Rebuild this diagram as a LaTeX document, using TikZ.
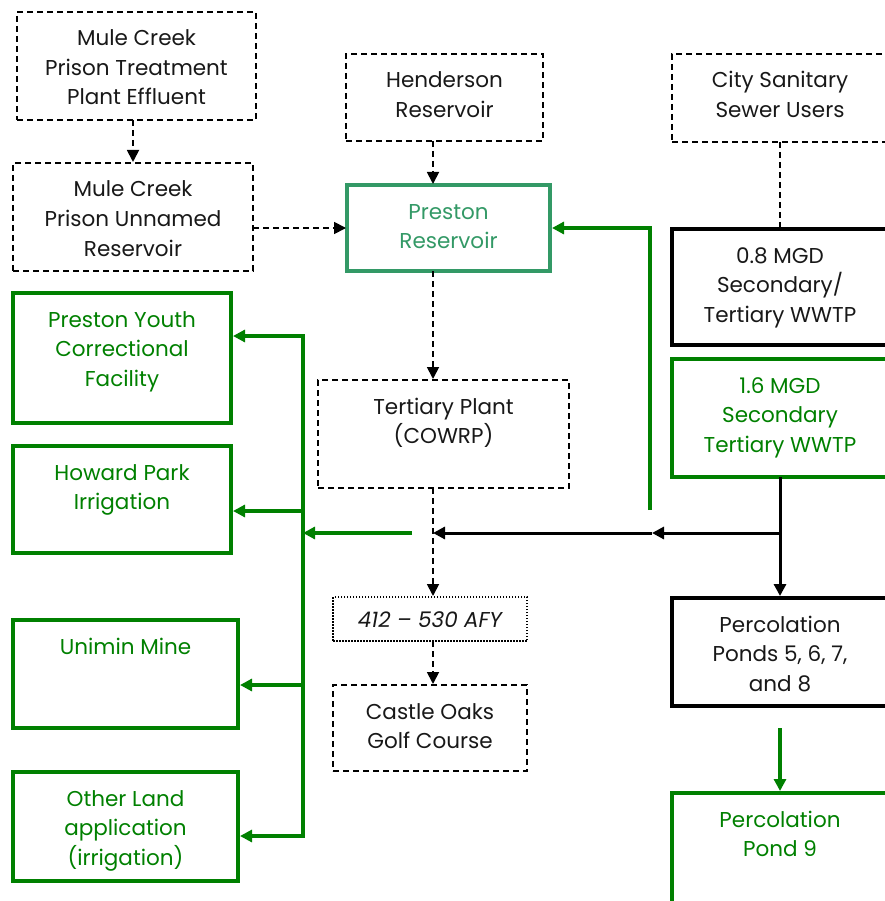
\documentclass[tikz,border=0pt]{standalone}
\usepackage{fontspec}
\setmainfont{Poppins}
\usetikzlibrary{arrows.meta}

\definecolor{flowgreen}{RGB}{0,128,0}
\definecolor{seagreen}{RGB}{51,153,102}
\definecolor{inkgray}{RGB}{24,24,24}

% box text: [baseline of first line] {width} {height} {lines}
\newcommand{\boxtext}[4][34pt]{\parbox[c][#3][t]{#2}{\centering\rule{0pt}{#1}#4}}

\tikzset{
    every node/.style={inner sep=0pt, outer sep=0pt, anchor=north west, font=\fontsize{21.5}{29.5}\selectfont},
    dashbox/.style={draw=black, line width=1.8pt, dash pattern=on 6pt off 4pt, text=inkgray},
    dotbox/.style={draw=black, line width=1.4pt, dash pattern=on 1.5pt off 1.5pt, text=inkgray},
    blackbox/.style={draw=black, line width=4.5pt, text=inkgray},
    greenbox/.style={draw=flowgreen, line width=4pt, text=flowgreen},
    seabox/.style={draw=seagreen, line width=4pt, text=seagreen},
    tip/.style={-{Triangle[length=12pt,width=12pt]}},
    dashflow/.style={tip, black, line width=1.8pt, dash pattern=on 6pt off 4pt, shorten >=1pt},
    blackflow/.style={tip, black, line width=3pt},
    greenflow/.style={tip, flowgreen, line width=3.5pt, shorten >=2pt},
}

\begin{document}
\begin{tikzpicture}[x=1pt, y=-1pt]
    \useasboundingbox (0,0) rectangle (884,901);

    % sources
    \node[dashbox] (mcte) at (17,12) {\boxtext{239pt}{108pt}{Mule Creek\\Prison Treatment\\Plant Effluent}};
    \node[dashbox] (mcur) at (13,163) {\boxtext{240pt}{108pt}{Mule Creek\\Prison Unnamed\\Reservoir}};
    \node[dashbox] (hend) at (346,54) {\boxtext{197pt}{87pt}{Henderson\\Reservoir}};
    \node[dashbox] (sewer) at (672,54) {\boxtext{216pt}{88pt}{City Sanitary\\Sewer Users}};

    % middle column
    \node[seabox] (prest) at (347,185) {\boxtext{203pt}{86pt}{Preston\\Reservoir}};
    \node[dashbox] (cowrp) at (318,380) {\boxtext{251pt}{108pt}{Tertiary Plant\\(COWRP)}};
    \node[dotbox] (afy) at (333,597) {\boxtext[30pt]{194pt}{44pt}{\itshape 412 -- 530 AFY}};
    \node[dashbox] (golf) at (333,685) {\boxtext{194pt}{86pt}{Castle Oaks\\Golf Course}};

    % right column (runs off the page)
    \node[blackbox] (mgd08) at (672,229) {\boxtext{216pt}{116pt}{0.8 MGD\\Secondary/\\Tertiary WWTP}};
    \node[greenbox] (mgd16) at (672,359) {\boxtext{216pt}{118pt}{1.6 MGD\\Secondary\\Tertiary WWTP}};
    \node[blackbox] (perc) at (672,598) {\boxtext{216pt}{108pt}{Percolation\\Ponds 5, 6, 7,\\and 8}};
    \node[greenbox] (pond9) at (672,793) {\boxtext{216pt}{120pt}{Percolation\\Pond 9}};

    % reuse users
    \node[greenbox] (pyc) at (13,293) {\boxtext{218pt}{130pt}{Preston Youth\\Correctional\\Facility}};
    \node[greenbox] (howard) at (13,446) {\boxtext{218pt}{107pt}{Howard Park\\Irrigation}};
    \node[greenbox] (unimin) at (13,620) {\boxtext{225pt}{108pt}{Unimin Mine}};
    \node[greenbox] (other) at (13,772) {\boxtext{225pt}{109pt}{Other Land\\application\\(irrigation)}};

    \coordinate (spine) at (433,0);
    \coordinate (split) at (780,533);
    \coordinate (ret) at (652,533);
    \coordinate (retfoot) at (650,510);
    \coordinate (gfrom) at (412,533);
    \coordinate (p9from) at (780,728);
    \coordinate (bustop) at (303,336);
    \coordinate (bus2) at (303,511);
    \coordinate (bus3) at (303,685);
    \coordinate (busbot) at (303,836);

    % dashed feeds
    \draw[dashflow] (mcte.south -| mcur.north) -- (mcur.north);
    \draw[dashflow] (mcur.east |- prest.west) -- (prest.west);
    \draw[dashflow] (hend.south -| spine) -- (prest.north -| spine);
    \draw[dashflow] (prest.south -| spine) -- (cowrp.north -| spine);
    \draw[dashflow] (cowrp.south -| spine) -- (afy.north -| spine);
    \draw[dashflow] (afy.south -| spine) -- (golf.north -| spine);
    \draw[black, line width=1.8pt, dash pattern=on 6pt off 4pt] (sewer.south) -- (mgd08.north);

    % WWTP outflow
    \draw[blackflow, shorten >=2pt] (mgd16.south) -- (perc.north);
    \draw[blackflow] (split) -- (ret);
    \draw[blackflow] (ret) -- (split -| spine);
    \draw[greenflow] (retfoot) |- (prest.east); % return to Preston
    \draw[greenflow] (pond9.north |- p9from) -- (pond9.north);

    % distribution bus
    \draw[flowgreen, line width=3.5pt] (bustop) -- (busbot);
    \draw[greenflow, shorten >=0pt] (gfrom) -- (gfrom -| bustop);
    \draw[greenflow, line cap=rect] (bustop) -- (bustop -| pyc.east);
    \draw[greenflow] (bus2) -- (bus2 -| howard.east);
    \draw[greenflow] (bus3) -- (bus3 -| unimin.east);
    \draw[greenflow, line cap=rect] (busbot) -- (busbot -| other.east);
\end{tikzpicture}
\end{document}
